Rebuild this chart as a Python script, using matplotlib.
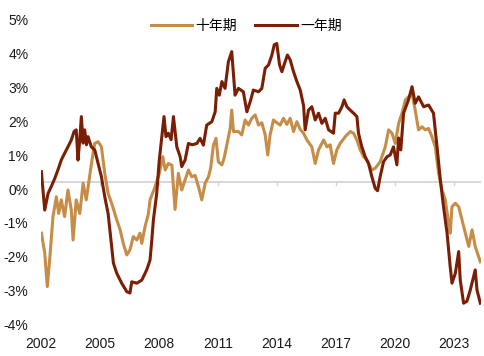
import matplotlib
matplotlib.use("Agg")
import matplotlib.pyplot as plt

plt.rcParams['font.family'] = ['Liberation Sans', 'Noto Sans CJK SC', 'DejaVu Sans']
plt.rcParams['axes.unicode_minus'] = False

# 一年期 (decimal year, %)
one_year_t = [2002.02, 2002.19, 2002.36, 2002.52, 2002.70, 2002.86, 2003.03, 2003.20, 2003.37, 2003.54,
              2003.68, 2003.79, 2003.88, 2003.97, 2004.05, 2004.14, 2004.22, 2004.31, 2004.39, 2004.56,
              2004.73, 2004.90, 2005.07, 2005.24, 2005.41, 2005.57, 2005.68, 2005.85, 2006.10, 2006.36,
              2006.52, 2006.61, 2006.87, 2007.12, 2007.37, 2007.54, 2007.63, 2007.71, 2007.88, 2008.01,
              2008.14, 2008.25, 2008.35, 2008.47, 2008.61, 2008.73, 2008.90, 2009.07, 2009.15, 2009.32,
              2009.49, 2009.68, 2009.92, 2010.08, 2010.25, 2010.42, 2010.68, 2010.85, 2010.93, 2011.06,
              2011.19, 2011.35, 2011.52, 2011.69, 2011.78, 2011.86, 2012.03, 2012.28, 2012.46, 2012.63,
              2012.79, 2013.05, 2013.22, 2013.39, 2013.56, 2013.73, 2013.85, 2013.98, 2014.12, 2014.24,
              2014.40, 2014.52, 2014.66, 2014.83, 2015.00, 2015.17, 2015.34, 2015.42, 2015.59, 2015.76,
              2015.93, 2016.10, 2016.27, 2016.44, 2016.61, 2016.86, 2016.95, 2017.12, 2017.29, 2017.40,
              2017.54, 2017.71, 2017.88, 2018.05, 2018.13, 2018.30, 2018.47, 2018.64, 2018.81, 2018.98,
              2019.10, 2019.23, 2019.40, 2019.58, 2019.74, 2019.91, 2020.08, 2020.17, 2020.28, 2020.42,
              2020.67, 2020.85, 2021.01, 2021.18, 2021.44, 2021.69, 2021.94, 2022.12, 2022.29, 2022.45,
              2022.63, 2022.79, 2022.88, 2023.05, 2023.22, 2023.30, 2023.47, 2023.64, 2023.81, 2024.06,
              2024.15, 2024.32]
one_year_v = [0.51, -0.62, -0.13, 0.07, 0.31, 0.56, 0.85, 1.05, 1.24, 1.44,
              1.69, 1.74, 0.85, 1.44, 2.13, 1.35, 1.74, 1.30, 1.54, 1.24,
              1.15, 0.75, 0.36, -0.23, -0.72, -1.60, -2.18, -2.48, -2.77, -3.02,
              -3.06, -2.73, -2.77, -2.68, -2.38, -2.09, -1.50, -0.91, -0.13, 0.85,
              1.54, 2.13, 1.54, 1.64, 1.45, 2.13, 1.24, 0.95, 0.66, 0.85,
              1.34, 1.30, 1.34, 1.49, 1.29, 1.88, 1.98, 2.27, 2.96, 2.76,
              3.16, 2.96, 3.74, 4.04, 3.35, 2.76, 2.96, 2.86, 2.27, 2.57,
              2.91, 2.86, 2.96, 3.55, 3.65, 3.94, 4.24, 4.28, 3.65, 3.45,
              3.74, 3.94, 3.80, 3.45, 3.16, 2.91, 2.45, 1.74, 2.32, 2.42,
              2.03, 2.23, 1.93, 2.08, 1.74, 1.64, 2.23, 2.23, 2.42, 2.62,
              2.42, 2.32, 2.23, 2.13, 1.64, 1.24, 0.95, 0.75, 0.36, 0.02,
              -0.05, 0.36, 0.80, 0.95, 1.00, 1.24, 0.71, 1.50, 1.15, 2.23,
              2.62, 3.01, 2.52, 2.71, 2.42, 2.47, 2.23, 1.24, 0.26, -0.52,
              -1.30, -2.29, -2.77, -2.48, -1.84, -2.68, -3.36, -3.30, -2.97, -2.38,
              -2.97, -3.36]

# 十年期 (decimal year, %)
ten_year_t = [2002.02, 2002.19, 2002.32, 2002.44, 2002.61, 2002.78, 2002.90, 2003.03, 2003.20, 2003.37,
              2003.54, 2003.63, 2003.79, 2003.97, 2004.14, 2004.30, 2004.47, 2004.59, 2004.73, 2004.90,
              2005.07, 2005.24, 2005.41, 2005.59, 2005.85, 2006.02, 2006.18, 2006.36, 2006.52, 2006.69,
              2006.87, 2007.03, 2007.12, 2007.29, 2007.46, 2007.54, 2007.80, 2008.01, 2008.19, 2008.31,
              2008.47, 2008.65, 2008.81, 2008.98, 2009.15, 2009.32, 2009.49, 2009.66, 2009.83, 2010.00,
              2010.17, 2010.34, 2010.51, 2010.62, 2010.76, 2010.89, 2011.01, 2011.19, 2011.30, 2011.44,
              2011.61, 2011.69, 2011.78, 2012.03, 2012.20, 2012.37, 2012.54, 2012.71, 2012.88, 2013.05,
              2013.22, 2013.39, 2013.52, 2013.64, 2013.81, 2013.98, 2014.15, 2014.32, 2014.49, 2014.66,
              2014.83, 2015.00, 2015.17, 2015.34, 2015.51, 2015.76, 2015.93, 2016.10, 2016.36, 2016.53,
              2016.69, 2016.86, 2017.03, 2017.20, 2017.46, 2017.71, 2017.88, 2018.05, 2018.22, 2018.39,
              2018.56, 2018.81, 2018.98, 2019.23, 2019.49, 2019.66, 2019.83, 2020.00, 2020.17, 2020.34,
              2020.51, 2020.85, 2021.01, 2021.18, 2021.36, 2021.52, 2021.69, 2021.86, 2022.03, 2022.20,
              2022.37, 2022.54, 2022.71, 2022.79, 2022.88, 2023.05, 2023.22, 2023.39, 2023.56, 2023.73,
              2023.90, 2024.06, 2024.32]
ten_year_v = [-1.30, -1.88, -2.87, -2.09, -0.81, -0.23, -0.72, -0.32, -0.81, -0.03,
              -0.62, -1.50, -0.32, -0.72, 0.17, -0.32, 0.36, 0.85, 1.34, 1.39,
              1.24, 0.46, -0.13, -0.42, -0.91, -1.20, -1.60, -1.94, -1.79, -1.40,
              -1.50, -1.30, -1.60, -1.10, -0.72, -0.32, 0.07, 0.46, 0.95, 0.56,
              0.75, 0.70, -0.60, 0.46, -0.03, 0.26, 0.56, 0.36, 0.40, 0.07,
              -0.32, 0.17, 0.36, 0.61, 1.29, 1.49, 0.80, 0.71, 0.90, 1.29,
              1.78, 2.32, 1.69, 1.69, 1.59, 2.03, 1.88, 2.08, 2.18, 1.88,
              1.95, 1.59, 1.00, 1.59, 2.03, 1.95, 1.88, 2.08, 1.90, 2.08,
              1.69, 1.98, 1.75, 1.64, 1.44, 1.24, 0.75, 1.15, 1.44, 1.24,
              1.30, 0.75, 1.15, 1.34, 1.54, 1.69, 1.64, 1.44, 1.15, 0.95,
              0.85, 0.56, 0.61, 0.80, 1.24, 1.74, 1.64, 1.34, 1.93, 2.23,
              2.62, 2.81, 2.32, 1.74, 1.83, 1.74, 1.78, 1.54, 1.24, 0.46,
              -0.03, -0.32, -1.01, -1.30, -0.52, -0.42, -0.52, -0.91, -1.30, -1.69,
              -1.20, -1.69, -2.14]

x_ticks = [2002, 2005, 2008, 2011, 2014, 2017, 2020, 2023]
y_ticks = [-4, -3, -2, -1, 0, 1, 2, 3, 4, 5]
y_labels = ['-4%', '-3%', '-2%', '-1%', '0%', '1%', '2%', '3%', '4%', '5%']
axis_line_value = 0.2

TAN = '#C58D47'
DARK = '#7A1F05'

fig = plt.figure(figsize=(4.85, 3.56), dpi=100)
ax = fig.add_axes([0.0845, 0.0871, 0.9075, 0.8595])

ax.axhline(axis_line_value, color='#D3D3D3', lw=1.3, zorder=1)
ax.plot(ten_year_t, ten_year_v, color=TAN, lw=2.2, label='十年期', zorder=2)
ax.plot(one_year_t, one_year_v, color=DARK, lw=2.2, label='一年期', zorder=3)

# small tick marks on the category axis line
for t in x_ticks:
    ax.plot([t, t], [axis_line_value, axis_line_value - 0.09], color='#D3D3D3', lw=1.0, zorder=1)

ax.set_xlim(2002.0, 2024.36)
ax.set_ylim(-4, 5)
ax.set_xticks(x_ticks)
ax.set_xticklabels([str(t) for t in x_ticks])
ax.set_yticks(y_ticks)
ax.set_yticklabels(y_labels)
ax.tick_params(axis='both', length=0, labelsize=10, colors='#1a1a1a')
ax.tick_params(axis='x', pad=9)
ax.tick_params(axis='y', pad=9)
for s in ax.spines.values():
    s.set_visible(False)

fig.legend(loc='center', bbox_to_anchor=(0.508, 0.927), ncol=2, frameon=False,
           handlelength=3.0, handletextpad=0.25, columnspacing=1.3, borderpad=0,
           prop={'family': ['Noto Sans CJK SC', 'DejaVu Sans'], 'size': 10})

fig.savefig('out.png', dpi=100)
